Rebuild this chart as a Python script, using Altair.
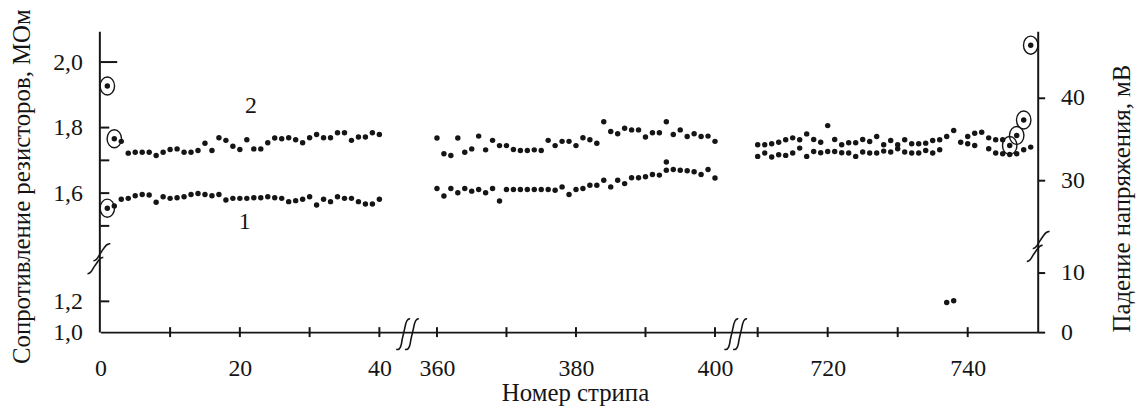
import altair as alt
import pandas as pd

# ---------------- data ----------------
# Segment 1: strips 1..40 (resistance, MOhm)
seg1_strips = list(range(1, 41))
seg1_curve1 = [1.554, 1.561, 1.581, 1.584, 1.592, 1.596, 1.594, 1.572, 1.589, 1.584,
               1.586, 1.589, 1.596, 1.599, 1.596, 1.592, 1.596, 1.579, 1.584, 1.584,
               1.584, 1.586, 1.586, 1.589, 1.586, 1.584, 1.574, 1.577, 1.581, 1.589,
               1.564, 1.581, 1.574, 1.589, 1.584, 1.584, 1.574, 1.567, 1.567, 1.581]
seg1_curve2 = [1.927, 1.766, 1.758, 1.722, 1.725, 1.725, 1.725, 1.715, 1.725, 1.733,
               1.735, 1.725, 1.725, 1.730, 1.752, 1.730, 1.769, 1.761, 1.743, 1.733,
               1.763, 1.735, 1.735, 1.754, 1.768, 1.766, 1.769, 1.763, 1.754, 1.769,
               1.779, 1.769, 1.769, 1.784, 1.784, 1.761, 1.771, 1.771, 1.784, 1.779]

# Segment 2: strips 360..400
seg2_strips = list(range(360, 401))
seg2_curve1 = [1.614, 1.591, 1.614, 1.601, 1.614, 1.606, 1.611, 1.601, 1.614, 1.576,
               1.611, 1.611, 1.611, 1.611, 1.611, 1.611, 1.611, 1.609, 1.619, 1.596,
               1.611, 1.614, 1.624, 1.624, 1.639, 1.619, 1.639, 1.629, 1.647, 1.647,
               1.650, 1.657, 1.655, 1.670, 1.672, 1.670, 1.668, 1.665, 1.657, 1.672,
               1.646]
seg2_curve2 = [1.768, 1.720, 1.715, 1.768, 1.725, 1.735, 1.774, 1.732, 1.761, 1.745,
               1.745, 1.733, 1.730, 1.730, 1.732, 1.730, 1.761, 1.745, 1.758, 1.758,
               1.745, 1.769, 1.763, 1.752, 1.818, 1.788, 1.781, 1.798, 1.793, 1.793,
               1.771, 1.784, 1.784, 1.818, 1.779, 1.793, 1.773, 1.781, 1.773, 1.774,
               1.758]
seg2_extra_strips = [393]
seg2_extra_vals = [1.695]

# Segment 3: strips 710..749 (voltage drop, mV)
seg3_upper_strips = list(range(710, 750))
seg3_upper = [34.28, 34.28, 34.40, 34.60, 34.88, 35.12, 34.88, 35.60, 34.92, 34.60,
              36.60, 34.92, 34.28, 34.52, 34.52, 34.92, 34.68, 35.28, 34.28, 34.80,
              34.28, 34.88, 34.40, 34.40, 34.48, 34.80, 34.88, 35.28, 36.00, 34.60,
              35.28, 35.68, 35.80, 35.12, 34.88, 34.88, 34.20, 35.40, 37.28, 46.32]
seg3_lower_strips = [710, 711, 712, 713, 714, 715, 716, 717, 718, 719,
                     720, 721, 722, 723, 724, 725, 726, 727, 728, 729,
                     730, 731, 732, 733, 734, 735, 736, 740, 741, 743,
                     744, 745, 746, 747, 748, 749]
seg3_lower = [32.88, 33.28, 32.80, 33.08, 33.00, 33.28, 33.88, 32.88, 33.48, 33.32,
              33.48, 33.48, 33.32, 33.28, 32.88, 33.40, 33.28, 33.28, 33.52, 33.40,
              33.80, 33.40, 33.28, 33.28, 33.60, 33.28, 33.68, 34.40, 34.20, 33.80,
              33.28, 33.20, 33.12, 33.20, 33.68, 34.00]
seg3_low_strips = [737, 738]
seg3_low = [5.0, 5.3]

# circled (rejected) points
circ_left_strips = [1, 2, 1]
circ_left_vals = [1.927, 1.766, 1.554]
circ_right_strips = [746, 747, 748, 749]
circ_right_vals = [34.20, 35.40, 37.28, 46.32]

# curve labels
note_text = ["1", "2"]
note_strips = [20.7, 21.6]
note_vals = [1.513, 1.867]

# axes
x_label_values = [0, 20, 40, 360, 380, 400, 720, 740]
x_tick_values = [10, 20, 30, 40, 360, 370, 380, 390, 400, 710, 720, 730, 740]
segment_bounds = [(0, 40), (360, 400), (710, 750)]
left_label_values = [1.0, 1.2, 1.6, 1.8, 2.0]
left_tick_values = [1.2, 1.5, 1.6, 1.7, 1.8]
left_long_tick = [2.0]
right_label_values = [0, 10, 30, 40]
left_break_value = 1.4
right_break_value = 22

# ---------------- styling ----------------
FONT = "Liberation Serif"
INK = "#151515"
W, H = 945, 303

x_scale = alt.Scale(domain=[0, 40, 360, 400, 710, 750],
                    range=[1, 282, 340, 620, 663, W], nice=False, zero=False)
yl_scale = alt.Scale(domain=[1.0, 1.2, 1.4, 2.094], range=[H, 272, 229, 0],
                     nice=False, zero=False)
yr_scale = alt.Scale(domain=[0, 10, 22, 48], range=[H, 243.3, 216.7, 0],
                     nice=False, zero=False)

x_axis = alt.Axis(values=x_label_values, ticks=False, grid=False,
                  domainColor=INK, domainWidth=2,
                  labelFont=FONT, labelFontSize=24, labelColor=INK,
                  labelPadding=25, labelFlush=False, labelOverlap=False,
                  titleFont=FONT, titleFontSize=25, titleFontWeight="normal",
                  titleColor=INK, titleX=479, titleY=61,
                  titleAlign="center", titleBaseline="middle")
x_enc = alt.X("strip:Q", scale=x_scale, axis=x_axis, title="Номер стрипа")

yl_axis = alt.Axis(orient="left", values=left_label_values, ticks=False, grid=False,
                   labelExpr="replace(format(datum.value, '.1f'), '.', ',')",
                   domainColor=INK, domainWidth=2,
                   labelFont=FONT, labelFontSize=24, labelColor=INK,
                   labelPadding=17, labelOverlap=False, labelFlush=False,
                   titleFont=FONT, titleFontSize=25, titleFontWeight="normal",
                   titleColor=INK, titleX=-78, titleY=156, titleAngle=270,
                   titleAlign="center", titleBaseline="middle")
yl_enc = alt.Y("res:Q", scale=yl_scale, axis=yl_axis,
               title="Сопротивление резисторов, МОм")

yr_axis = alt.Axis(orient="right", values=right_label_values, grid=False,
                   tickSize=7, tickWidth=2, tickColor=INK,
                   domainColor=INK, domainWidth=2,
                   labelFont=FONT, labelFontSize=24, labelColor=INK,
                   labelPadding=16, labelOverlap=False, labelFlush=False,
                   titleFont=FONT, titleFontSize=25, titleFontWeight="normal",
                   titleColor=INK, titleX=84, titleY=168, titleAngle=270,
                   titleAlign="center", titleBaseline="middle")
yr_enc = alt.Y("mv:Q", scale=yr_scale, axis=yr_axis, title="Падение напряжения, мВ")

ELLIPSE = "M0,-1A0.8,1,0,1,1,0,1A0.8,1,0,1,1,0,-1Z"
XBREAK = ("M-0.75,0.95C-0.5,1.05,-0.42,0.7,-0.38,0.35L-0.22,-0.35C-0.15,-0.75,-0.05,-1.02,0.12,-0.95"
          "M-0.2,0.95C0.05,1.05,0.13,0.7,0.17,0.35L0.33,-0.35C0.4,-0.75,0.5,-1.02,0.67,-0.95")
YBREAK = ("M-0.33,0.13C-0.1,0.2,0.0,-0.2,0.2,-0.45C0.4,-0.75,0.55,-1.05,0.8,-1.0"
          "M-0.73,1.0C-0.5,1.07,-0.4,0.67,-0.2,0.42C0.0,0.17,0.1,-0.12,0.33,-0.07")

# ---------------- left (MOhm) group ----------------
left_pts = pd.DataFrame({
    "strip": seg1_strips + seg1_strips + seg2_strips + seg2_strips + seg2_extra_strips,
    "res": seg1_curve1 + seg1_curve2 + seg2_curve1 + seg2_curve2 + seg2_extra_vals,
})
l_dots = alt.Chart(left_pts).mark_circle(size=30, color=INK, opacity=1).encode(x=x_enc, y=yl_enc)

l_circ = alt.Chart(pd.DataFrame({"strip": circ_left_strips, "res": circ_left_vals})).mark_point(
    shape=ELLIPSE, size=330, filled=False, strokeWidth=1.4, color=INK, opacity=1
).encode(x=x_enc, y=yl_enc)

l_notes = alt.Chart(pd.DataFrame({"strip": note_strips, "res": note_vals, "t": note_text})).mark_text(
    font=FONT, fontSize=24, color=INK
).encode(x=x_enc, y=yl_enc, text="t:N")

x_ticks = alt.Chart(pd.DataFrame({"strip": x_tick_values})).transform_calculate(
    res="1.0"
).mark_tick(orient="vertical", size=10, thickness=2, color=INK, opacity=1).encode(x=x_enc, y=yl_enc)

l_ticks = alt.Chart(pd.DataFrame({"res": left_tick_values})).transform_calculate(
    strip="0"
).mark_tick(orient="horizontal", size=9, thickness=2, xOffset=4.5, color=INK, opacity=1).encode(x=x_enc, y=yl_enc)

l_long = alt.Chart(pd.DataFrame({"res": left_long_tick})).transform_calculate(
    strip="0"
).mark_tick(orient="horizontal", size=17, thickness=2, xOffset=8.5, color=INK, opacity=1).encode(x=x_enc, y=yl_enc)

gap_mid = [(segment_bounds[i][1] + segment_bounds[i + 1][0]) / 2 for i in range(len(segment_bounds) - 1)]
x_breaks = alt.Chart(pd.DataFrame({"strip": gap_mid})).transform_calculate(
    res="1.0"
).mark_point(shape=XBREAK, size=1024, filled=False, strokeWidth=1.6, color=INK, opacity=1, yOffset=2
).encode(x=x_enc, y=yl_enc)

l_break = alt.Chart(pd.DataFrame({"res": [left_break_value]})).transform_calculate(
    strip="0"
).mark_point(shape=YBREAK, size=900, filled=False, strokeWidth=1.6, color=INK, opacity=1, xOffset=-2
).encode(x=x_enc, y=yl_enc)

left_group = alt.layer(l_dots, l_circ, l_notes, x_ticks, l_ticks, l_long, x_breaks, l_break)

# ---------------- right (mV) group ----------------
right_pts = pd.DataFrame({
    "strip": seg3_upper_strips + seg3_lower_strips + seg3_low_strips,
    "mv": seg3_upper + seg3_lower + seg3_low,
})
r_dots = alt.Chart(right_pts).mark_circle(size=30, color=INK, opacity=1).encode(x=x_enc, y=yr_enc)

r_circ = alt.Chart(pd.DataFrame({"strip": circ_right_strips, "mv": circ_right_vals})).mark_point(
    shape=ELLIPSE, size=330, filled=False, strokeWidth=1.4, color=INK, opacity=1
).encode(x=x_enc, y=yr_enc)

r_break = alt.Chart(pd.DataFrame({"mv": [right_break_value]})).transform_calculate(
    strip=str(segment_bounds[-1][1])
).mark_point(shape=YBREAK, size=900, filled=False, strokeWidth=1.6, color=INK, opacity=1
).encode(x=x_enc, y=yr_enc)

right_group = alt.layer(r_dots, r_circ, r_break)

chart = alt.layer(left_group, right_group).resolve_scale(y="independent").properties(
    width=W, height=H,
    padding={"left": 92, "top": 22, "right": 101, "bottom": 77},
    autosize=alt.AutoSizeParams(type="none"),
    background="white",
).configure_view(stroke=None)

chart.save("out.html", embed_options={"renderer": "svg", "actions": False})
